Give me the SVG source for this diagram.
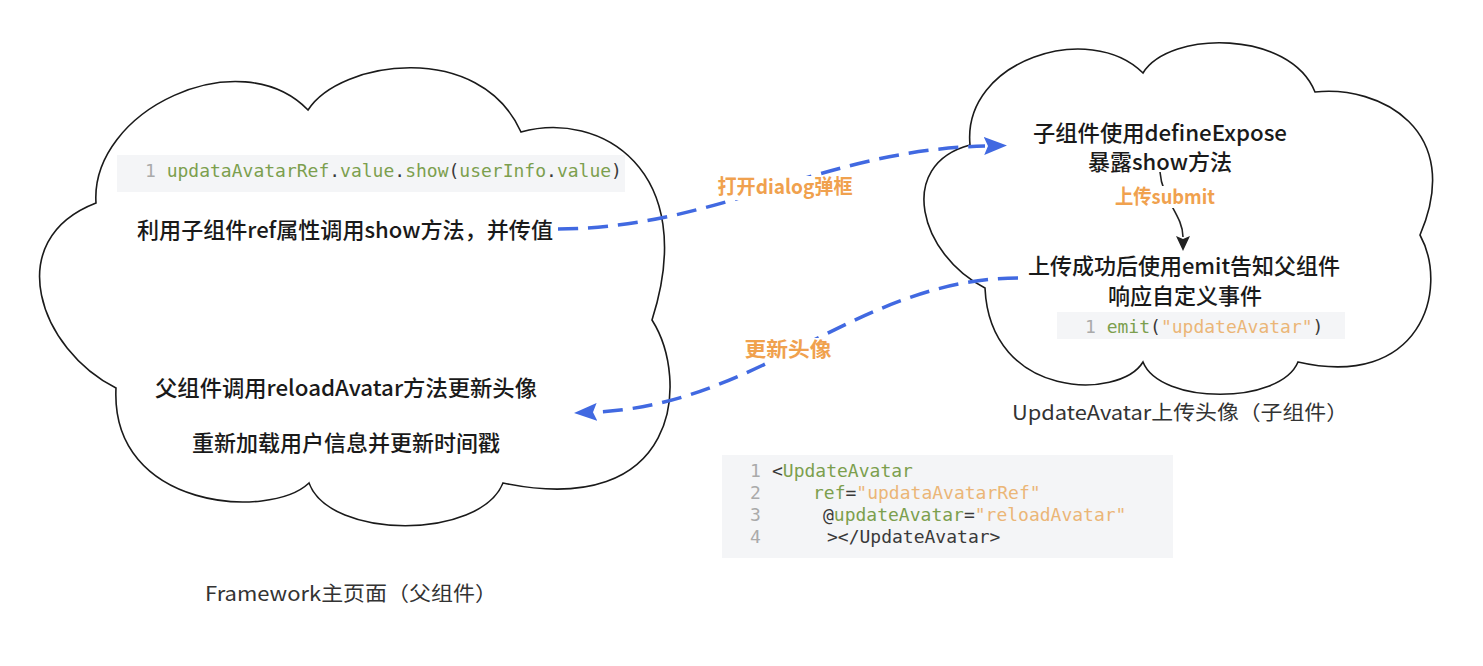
<svg xmlns="http://www.w3.org/2000/svg" width="1483" height="666" viewBox="0 0 1483 666">
<style>
  .cloud { fill: #ffffff; stroke: #1a1a1a; stroke-width: 1.6; }
  .t { font-family: "Noto Sans CJK SC", "Noto Sans", sans-serif; font-size: 22px; font-weight: 500; fill: #1a1a1a; text-anchor: middle; }
  .cap { font-family: "Noto Sans CJK SC", "Noto Sans", sans-serif; font-size: 20px; font-weight: 400; fill: #333333; text-anchor: middle; }
  .lbl { font-family: "Noto Sans CJK SC", "Noto Sans", sans-serif; font-size: 20px; font-weight: 700; fill: #f0a14e; text-anchor: middle; }
  .code { font-family: "DejaVu Sans Mono", "Liberation Mono", monospace; font-size: 18px; fill: #3a3a3a; }
  .codebg { fill: #f4f5f7; }
  .ln { fill: #aaaaaa; }
  .g { fill: #7c9f4e; }
  .s { fill: #ebb677; }
  .blue { fill: none; stroke: #4169e1; stroke-width: 3.5; stroke-dasharray: 20 10; }
  .blk { fill: none; stroke: #222222; stroke-width: 1.6; }
  .lblbg { fill: #ffffff; }
</style>
<defs>
  <marker id="ab" markerUnits="userSpaceOnUse" markerWidth="24" markerHeight="18" viewBox="0 0 24 18" refX="1" refY="9" orient="auto">
    <path d="M0,0 L23,9 L0,18 L4,9 Z" fill="#4169e1"/>
  </marker>
  <marker id="ak" markerUnits="userSpaceOnUse" markerWidth="16" markerHeight="14" viewBox="0 0 16 14" refX="1" refY="7" orient="auto">
    <path d="M0,0 L15,7 L0,14 L3,7 Z" fill="#222222"/>
  </marker>
</defs>
<rect width="1483" height="666" fill="#ffffff"/>

<g id="parent-cloud">
  <path class="cloud" d="M 96 203 C 90 110, 240 40, 308 110 C 340 60, 480 40, 521 132 C 600 110, 700 170, 652 320 C 690 380, 680 520, 503 483 C 480 540, 330 540, 309 483 C 270 520, 110 510, 116 388 C 40 350, 0 240, 96 203 Z"/>
</g>

<g id="parent-code">
  <rect class="codebg" x="117" y="155" width="508" height="37"/>
  <text class="code" x="145" y="177"><tspan class="ln">1</tspan> <tspan class="g">updataAvatarRef</tspan>.<tspan class="g">value</tspan>.<tspan class="g">show</tspan>(<tspan class="g">userInfo</tspan>.<tspan class="g">value</tspan>)</text>
</g>

<g id="parent-call">
  <text class="t" x="345" y="238" textLength="416" lengthAdjust="spacingAndGlyphs">利用子组件ref属性调用show方法，并传值</text>
</g>

<g id="parent-reload">
  <text class="t" x="346" y="396" textLength="382" lengthAdjust="spacingAndGlyphs">父组件调用reloadAvatar方法更新头像</text>
  <text class="t" x="346" y="451" textLength="308" lengthAdjust="spacingAndGlyphs">重新加载用户信息并更新时间戳</text>
</g>

<g id="parent-caption">
  <text class="cap" x="351" y="601" textLength="292" lengthAdjust="spacingAndGlyphs">Framework主页面（父组件）</text>
</g>

<g id="child-cloud">
  <path class="cloud" d="M 970 145 C 962 60, 1090 20, 1143 73 C 1170 30, 1290 30, 1315 92 C 1380 85, 1465 130, 1420 235 C 1450 290, 1420 390, 1298 362 C 1280 405, 1160 405, 1143 362 C 1120 400, 990 400, 985 288 C 920 255, 895 165, 970 145 Z"/>
</g>

<g id="child-expose">
  <text class="t" x="1160" y="141" textLength="254" lengthAdjust="spacingAndGlyphs">子组件使用defineExpose</text>
  <text class="t" x="1160" y="170" textLength="144" lengthAdjust="spacingAndGlyphs">暴露show方法</text>
</g>

<g id="child-emit">
  <text class="t" x="1184" y="274" textLength="312" lengthAdjust="spacingAndGlyphs">上传成功后使用emit告知父组件</text>
  <text class="t" x="1185" y="304" textLength="154" lengthAdjust="spacingAndGlyphs">响应自定义事件</text>
  <rect class="codebg" x="1057" y="312" width="288" height="27"/>
  <text class="code" x="1085" y="333"><tspan class="ln">1</tspan> <tspan class="g">emit</tspan>(<tspan class="s">"updateAvatar"</tspan>)</text>
</g>

<g id="child-caption">
  <text class="cap" x="1180" y="420" textLength="336" lengthAdjust="spacingAndGlyphs">UpdateAvatar上传头像（子组件）</text>
</g>

<g id="template-code">
  <rect class="codebg" x="722" y="455" width="451" height="103"/>
  <text class="code" x="750" y="477"><tspan class="ln">1</tspan></text>
  <text class="code" x="772" y="477">&lt;<tspan class="g">UpdateAvatar</tspan></text>
  <text class="code" x="750" y="499"><tspan class="ln">2</tspan></text>
  <text class="code" x="813" y="499"><tspan class="g">ref</tspan>=<tspan class="s">"updataAvatarRef"</tspan></text>
  <text class="code" x="750" y="521"><tspan class="ln">3</tspan></text>
  <text class="code" x="823" y="521">@<tspan class="g">updateAvatar</tspan>=<tspan class="s">"reloadAvatar"</tspan></text>
  <text class="code" x="750" y="543"><tspan class="ln">4</tspan></text>
  <text class="code" x="827" y="543">&gt;&lt;/UpdateAvatar&gt;</text>
</g>

<g id="connectors">
  <path class="blue" d="M 558 229 C 720 228, 820 150, 985 146" marker-end="url(#ab)"/>
  <rect class="lblbg" x="716" y="176" width="140" height="24"/>
  <text class="lbl" x="785" y="194" textLength="135" lengthAdjust="spacingAndGlyphs">打开dialog弹框</text>

  <path class="blk" d="M 1160 172 C 1162 200, 1183 215, 1183 237" marker-end="url(#ak)"/>
  <rect class="lblbg" x="1113" y="186" width="104" height="22"/>
  <text class="lbl" x="1165" y="204" textLength="100" lengthAdjust="spacingAndGlyphs">上传submit</text>

  <path class="blue" d="M 1018 278 C 860 278, 760 405, 596 412" marker-end="url(#ab)"/>
  <rect class="lblbg" x="743" y="338" width="92" height="24"/>
  <text class="lbl" x="788" y="357" textLength="87" lengthAdjust="spacingAndGlyphs">更新头像</text>
</g>
</svg>
